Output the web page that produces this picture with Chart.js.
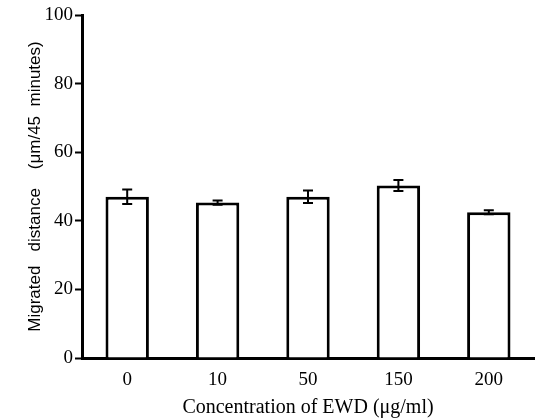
<!DOCTYPE html>
<html>
<head>
<meta charset="utf-8">
<script src="https://cdn.jsdelivr.net/npm/chart.js@4.4.0/dist/chart.umd.min.js"></script>
<style>
  html, body { margin: 0; padding: 0; background: #fff; }
  #wrap { width: 537px; height: 420px; }
</style>
</head>
<body>
<div id="wrap"><canvas id="myChart" width="537" height="420"></canvas></div>
<script>
  // values
  const labels = ['0', '10', '50', '150', '200'];
  const distance = [47, 45.3, 47, 50.3, 42.5];
  const errors = [2.1, 0.6, 1.8, 1.6, 0.6];
  const yTicks = [0, 20, 40, 60, 80, 100];

  // little plugin to draw the error bars (Chart.js has none)
  const errorBars = {
    id: 'errorBars',
    afterDatasetsDraw(chart) {
      const ctx = chart.ctx;
      const y = chart.scales.y;
      const meta = chart.getDatasetMeta(0);
      ctx.save();
      ctx.strokeStyle = '#000';
      ctx.lineWidth = 2;
      meta.data.forEach(function(bar, i) {
        const top = y.getPixelForValue(distance[i] + errors[i]);
        const bot = y.getPixelForValue(distance[i] - errors[i]);
        ctx.beginPath();
        ctx.moveTo(bar.x, top);
        ctx.lineTo(bar.x, bot);
        ctx.moveTo(bar.x - 5, top);
        ctx.lineTo(bar.x + 5, top);
        ctx.moveTo(bar.x - 5, bot);
        ctx.lineTo(bar.x + 5, bot);
        ctx.stroke();
      });
      ctx.restore();
    }
  };

  const myChart = new Chart('myChart', {
    type: 'bar',
    data: {
      labels: labels,
      datasets: [{
        label: 'Migrated distance',
        data: distance,
        backgroundColor: '#fff',
        borderColor: '#000',
        borderWidth: 3,
        borderSkipped: 'bottom',
        categoryPercentage: 1,
        barPercentage: 0.48
      }]
    },
    options: {
      responsive: false,
      animation: false,
      layout: { padding: { left: 22, right: 3, top: 15, bottom: 0 } },
      plugins: {
        legend: { display: false },
        tooltip: { enabled: false }
      },
      scales: {
        x: {
          grid: { display: false, drawTicks: false },
          border: { color: '#000', width: 3 },
          ticks: {
            color: '#000',
            padding: 11,
            font: { family: 'Liberation Serif', size: 19 }
          },
          title: {
            display: true,
            text: 'Concentration of EWD (μg/ml)',
            color: '#000',
            padding: { top: 0, bottom: 0 },
            font: { family: 'Liberation Serif', size: 20 }
          },
          afterFit(scale) { scale.height = 62; }
        },
        y: {
          min: 0,
          max: 100,
          afterBuildTicks(scale) {
            scale.ticks = yTicks.map(function(v) { return { value: v }; });
          },
          grid: {
            drawOnChartArea: false,
            drawTicks: true,
            tickLength: 7,
            tickWidth: 2,
            color: '#000'
          },
          border: { color: '#000', width: 3 },
          ticks: {
            color: '#000',
            padding: 2,
            font: { family: 'Liberation Serif', size: 19 }
          },
          title: {
            display: true,
            text: 'Migrated   distance    (μm/45  minutes)',
            color: '#000',
            padding: { top: 3 },
            font: { family: 'Liberation Sans', size: 17 }
          },
          afterFit(scale) { scale.width = 60; }
        }
      }
    },
    plugins: [errorBars]
  });
</script>
</body>
</html>
